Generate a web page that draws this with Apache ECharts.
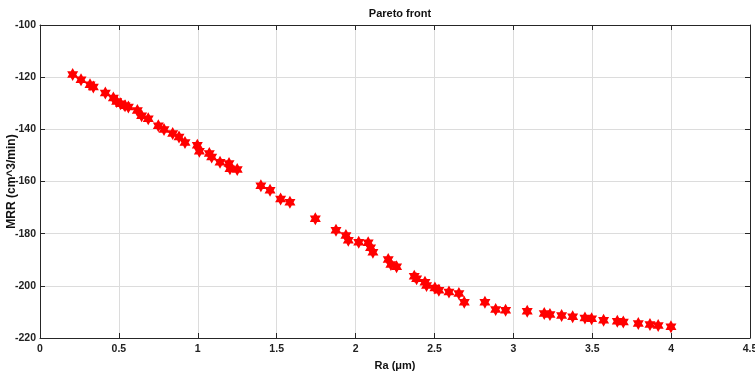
<!DOCTYPE html>
<html>
<head>
    <meta charset="utf-8">
    <title>Pareto front</title>
    <script src="https://cdn.jsdelivr.net/npm/echarts@6/dist/echarts.min.js"></script>
</head>
<body style="margin:0;">
    <div id="main" style="width: 755px;height:374px;"></div>
    <script type="text/javascript">
        // Ra (um) and MRR values
        var ra = [0.207, 0.26, 0.317, 0.338, 0.414, 0.465, 0.486, 0.511, 0.539, 0.56,
                  0.617, 0.644, 0.686, 0.75, 0.786, 0.841, 0.881, 0.919, 0.997, 1.01,
                  1.073, 1.088, 1.141, 1.198, 1.204, 1.25, 1.4, 1.458, 1.525, 1.584,
                  1.745, 1.876, 1.939, 1.954, 2.02, 2.08, 2.095, 2.11, 2.207, 2.224,
                  2.26, 2.372, 2.387, 2.44, 2.45, 2.503, 2.528, 2.592, 2.655, 2.689,
                  2.82, 2.888, 2.951, 3.088, 3.196, 3.232, 3.306, 3.376, 3.454, 3.496,
                  3.572, 3.659, 3.697, 3.792, 3.866, 3.918, 3.999];
        var mrr = [-119.0, -121.0, -122.9, -123.8, -126.1, -128.0, -129.3, -130.2, -131.0, -131.4,
                   -132.8, -134.8, -135.9, -138.6, -140.1, -141.6, -142.9, -145.0, -146.1, -148.4,
                   -149.3, -150.6, -152.6, -153.1, -155.1, -155.4, -161.6, -163.4, -166.7, -168.0,
                   -174.3, -178.7, -180.7, -182.5, -183.3, -183.5, -185.4, -187.1, -189.9, -191.8,
                   -192.7, -196.3, -197.3, -198.6, -199.9, -200.8, -201.7, -202.4, -202.9, -206.3,
                   -206.3, -209.1, -209.4, -209.7, -210.6, -211.0, -211.4, -211.9, -212.3, -212.6,
                   -213.2, -213.6, -213.9, -214.4, -214.8, -215.2, -215.7];

        var points = [];
        for (var i = 0; i < ra.length; i++) {
            points.push([ra[i], mrr[i]]);
        }

        var font = 'Liberation Sans';
        var hexagram = 'path://M0,-10 L8.66,5 L-8.66,5 Z M0,10 L-8.66,-5 L8.66,-5 Z';

        var myChart = echarts.init(document.getElementById('main'));
        var option = {
            animation: false,
            backgroundColor: '#fff',
            title: {
                text: 'Pareto front',
                left: 395,
                top: 3,
                textAlign: 'center',
                textStyle: {fontFamily: font, fontSize: 11, fontWeight: 'bold', color: '#111'}
            },
            grid: {left: 40, right: 5, top: 25, bottom: 36, outerBoundsMode: 'none', containLabel: false},
            xAxis: [{
                type: 'value', min: 0, max: 4.5, interval: 0.5,
                name: 'Ra (μm)', nameLocation: 'middle', nameGap: 22, nameMoveOverlap: false,
                nameTextStyle: {fontFamily: font, fontSize: 11, fontWeight: 'bold', color: '#111'},
                axisLine: {onZero: false, lineStyle: {color: '#262626', width: 1}},
                axisTick: {show: true, inside: true, length: 5, lineStyle: {color: '#262626'}},
                axisLabel: {fontFamily: font, fontSize: 10.5, fontWeight: 'bold', color: '#222', margin: 6},
                splitLine: {show: true, lineStyle: {color: '#dcdcdc', width: 1}}
            }, {
                type: 'value', min: 0, max: 4.5, interval: 0.5, position: 'top',
                axisLine: {onZero: false, lineStyle: {color: '#262626', width: 1}},
                axisTick: {show: true, inside: true, length: 5, lineStyle: {color: '#262626'}},
                axisLabel: {show: false},
                splitLine: {show: false}
            }],
            yAxis: [{
                type: 'value', min: -220, max: -100, interval: 20,
                name: 'MRR (cm^3/min)', nameLocation: 'middle', nameGap: 22, nameMoveOverlap: false,
                nameTextStyle: {fontFamily: font, fontSize: 12, fontWeight: 'bold', color: '#111'},
                axisLine: {onZero: false, lineStyle: {color: '#262626', width: 1}},
                axisTick: {show: true, inside: true, length: 5, lineStyle: {color: '#262626'}},
                axisLabel: {fontFamily: font, fontSize: 10.5, fontWeight: 'bold', color: '#222', margin: 4},
                splitLine: {show: true, lineStyle: {color: '#dcdcdc', width: 1}}
            }, {
                type: 'value', min: -220, max: -100, interval: 20, position: 'right',
                axisLine: {onZero: false, lineStyle: {color: '#262626', width: 1}},
                axisTick: {show: true, inside: true, length: 5, lineStyle: {color: '#262626'}},
                axisLabel: {show: false},
                splitLine: {show: false}
            }],
            series: [{
                type: 'scatter',
                data: points,
                symbol: hexagram,
                symbolSize: [11, 13],
                itemStyle: {color: '#ff0000', opacity: 1}
            }]
        };
        myChart.setOption(option);
    </script>
</body>
</html>
